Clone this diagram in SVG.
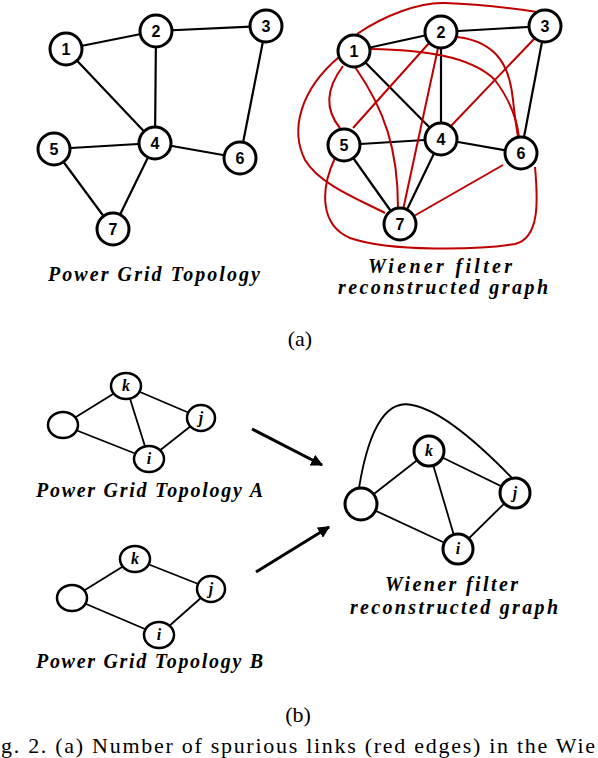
<svg xmlns="http://www.w3.org/2000/svg" width="598" height="758" viewBox="0 0 598 758">
<style>
.bg{fill:#fff}
.e{stroke:#000;stroke-width:2.2;fill:none}
.r{stroke:#c00000;stroke-width:2;fill:none}
.eb{stroke:#000;stroke-width:1.8;fill:none}
.n{fill:#fff;stroke:#000;stroke-width:3}
.nb{fill:#fff;stroke:#000;stroke-width:2.5}
.num{font-family:"Liberation Sans","DejaVu Sans",sans-serif;font-weight:bold;font-size:16px;text-anchor:middle;fill:#000}
.lab{font-family:"Liberation Serif","DejaVu Serif",serif;font-weight:bold;font-style:italic;font-size:16px;text-anchor:middle;fill:#000}
.ttl{font-family:"Liberation Serif","DejaVu Serif",serif;font-weight:bold;font-style:italic;font-size:20px;fill:#000}
.cap{font-family:"Liberation Serif","DejaVu Serif",serif;font-size:22px;fill:#000}
.arr{stroke:#000;stroke-width:3;fill:none}
</style>
<defs>
<marker id="ah" viewBox="0 0 10 10" refX="9" refY="5" markerWidth="4" markerHeight="4" orient="auto" markerUnits="strokeWidth">
<path d="M0,0 L10,5 L0,10 z" fill="#000"/>
</marker>
</defs>
<rect class="bg" x="0" y="0" width="598" height="758"/>

<g id="connectors">
<line class="e" x1="66" y1="49" x2="156" y2="31"/>
<line class="e" x1="66" y1="49" x2="155" y2="143"/>
<line class="e" x1="156" y1="31" x2="266" y2="26"/>
<line class="e" x1="156" y1="31" x2="155" y2="143"/>
<line class="e" x1="266" y1="26" x2="240" y2="158"/>
<line class="e" x1="155" y1="143" x2="54" y2="149"/>
<line class="e" x1="155" y1="143" x2="240" y2="158"/>
<line class="e" x1="155" y1="143" x2="113" y2="229"/>
<line class="e" x1="54" y1="149" x2="113" y2="229"/>
<line class="e" x1="354" y1="51" x2="441" y2="32"/>
<line class="e" x1="354" y1="51" x2="441" y2="139"/>
<line class="e" x1="441" y1="32" x2="545" y2="26"/>
<line class="e" x1="441" y1="32" x2="441" y2="139"/>
<line class="e" x1="545" y1="26" x2="521" y2="153"/>
<line class="e" x1="441" y1="139" x2="344" y2="145"/>
<line class="e" x1="441" y1="139" x2="521" y2="153"/>
<line class="e" x1="441" y1="139" x2="400" y2="224"/>
<line class="e" x1="344" y1="145" x2="400" y2="224"/>
<path class="r" d="M357,34 C385,15 420,2 445,3 C480,4 510,8 537,12"/>
<path class="r" d="M371,49 C420,50 470,55 495,80 C510,100 517,120 519,137"/>
<path class="r" d="M457,37 C500,42 510,70 513,100 C515,120 517,130 518,137"/>
<line class="r" x1="535" y1="38" x2="450" y2="127"/>
<line class="r" x1="503" y1="165" x2="400" y2="224"/>
<path class="r" d="M335,158 C320,190 320,225 350,238 C390,252 480,250 515,244 C540,238 538,200 535,167"/>
<path class="r" d="M343,66 C325,90 325,110 340,128"/>
<path class="r" d="M355,67 C385,110 398,150 398,208"/>
<path class="r" d="M339,57 C300,90 290,130 305,160 C320,185 360,200 385,213"/>
<line class="r" x1="430" y1="42" x2="353" y2="128"/>
<line class="r" x1="438" y1="48" x2="403" y2="210"/>
<line class="eb" x1="63" y1="425" x2="126" y2="386"/>
<line class="eb" x1="63" y1="425" x2="149" y2="459"/>
<line class="eb" x1="126" y1="386" x2="201" y2="418"/>
<line class="eb" x1="126" y1="386" x2="149" y2="459"/>
<line class="eb" x1="201" y1="418" x2="149" y2="459"/>
<line class="eb" x1="72" y1="598" x2="135" y2="559"/>
<line class="eb" x1="72" y1="598" x2="159" y2="635"/>
<line class="eb" x1="135" y1="559" x2="211" y2="589"/>
<line class="eb" x1="211" y1="589" x2="159" y2="635"/>
<line class="eb" x1="361" y1="504" x2="429" y2="451"/>
<line class="eb" x1="361" y1="504" x2="458" y2="549"/>
<line class="eb" x1="429" y1="451" x2="515" y2="493"/>
<line class="eb" x1="429" y1="451" x2="458" y2="549"/>
<line class="eb" x1="515" y1="493" x2="458" y2="549"/>
<path class="eb" d="M359,488 C370,420 390,400 412,405 C440,410 480,445 512,478"/>
<line class="arr" x1="252" y1="429" x2="322" y2="465" marker-end="url(#ah)"/>
<line class="arr" x1="256" y1="572" x2="329" y2="527" marker-end="url(#ah)"/>
</g>

<g id="a-left-1"><circle class="n" cx="66" cy="49" r="16"/><text class="num" x="66" y="55">1</text></g>
<g id="a-left-2"><circle class="n" cx="156" cy="31" r="16"/><text class="num" x="156" y="37">2</text></g>
<g id="a-left-3"><circle class="n" cx="266" cy="26" r="16"/><text class="num" x="266" y="32">3</text></g>
<g id="a-left-4"><circle class="n" cx="155" cy="143" r="16"/><text class="num" x="155" y="149">4</text></g>
<g id="a-left-5"><circle class="n" cx="54" cy="149" r="16"/><text class="num" x="54" y="155">5</text></g>
<g id="a-left-6"><circle class="n" cx="240" cy="158" r="16"/><text class="num" x="240" y="164">6</text></g>
<g id="a-left-7"><circle class="n" cx="113" cy="229" r="16"/><text class="num" x="113" y="235">7</text></g>

<g id="a-right-1"><circle class="n" cx="354" cy="51" r="16"/><text class="num" x="354" y="57">1</text></g>
<g id="a-right-2"><circle class="n" cx="441" cy="32" r="16"/><text class="num" x="441" y="38">2</text></g>
<g id="a-right-3"><circle class="n" cx="545" cy="26" r="16"/><text class="num" x="545" y="32">3</text></g>
<g id="a-right-4"><circle class="n" cx="441" cy="139" r="16"/><text class="num" x="441" y="145">4</text></g>
<g id="a-right-5"><circle class="n" cx="344" cy="145" r="16"/><text class="num" x="344" y="151">5</text></g>
<g id="a-right-6"><circle class="n" cx="521" cy="153" r="16"/><text class="num" x="521" y="159">6</text></g>
<g id="a-right-7"><circle class="n" cx="400" cy="224" r="16"/><text class="num" x="400" y="230">7</text></g>

<g id="bA-u"><ellipse class="nb" cx="63" cy="425" rx="15" ry="13"/></g>
<g id="bA-k"><ellipse class="nb" cx="126" cy="386" rx="15" ry="13"/><text class="lab" x="126" y="391">k</text></g>
<g id="bA-j"><ellipse class="nb" cx="201" cy="418" rx="14" ry="13"/><text class="lab" x="201" y="423">j</text></g>
<g id="bA-i"><ellipse class="nb" cx="149" cy="459" rx="15" ry="13"/><text class="lab" x="149" y="464">i</text></g>

<g id="bB-u"><ellipse class="nb" cx="72" cy="598" rx="15" ry="13"/></g>
<g id="bB-k"><ellipse class="nb" cx="135" cy="559" rx="15" ry="13"/><text class="lab" x="135" y="564">k</text></g>
<g id="bB-j"><ellipse class="nb" cx="211" cy="589" rx="14" ry="13"/><text class="lab" x="211" y="594">j</text></g>
<g id="bB-i"><ellipse class="nb" cx="159" cy="635" rx="15" ry="13"/><text class="lab" x="159" y="640">i</text></g>

<g id="bR-u"><circle class="n" cx="361" cy="504" r="16"/></g>
<g id="bR-k"><circle class="n" cx="429" cy="451" r="15"/><text class="lab" x="429" y="456">k</text></g>
<g id="bR-j"><circle class="n" cx="515" cy="493" r="15"/><text class="lab" x="515" y="498">j</text></g>
<g id="bR-i"><circle class="n" cx="458" cy="549" r="15"/><text class="lab" x="458" y="554">i</text></g>

<g id="labels">
<text class="ttl" x="48" y="281" textLength="212" lengthAdjust="spacing">Power Grid Topology</text>
<text class="ttl" x="368" y="273" textLength="144" lengthAdjust="spacing">Wiener filter</text>
<text class="ttl" x="338" y="294" textLength="210" lengthAdjust="spacing">reconstructed graph</text>
<text class="cap" x="300" y="346" text-anchor="middle">(a)</text>
<text class="ttl" x="36" y="497" textLength="227" lengthAdjust="spacing">Power Grid Topology A</text>
<text class="ttl" x="36" y="668" textLength="227" lengthAdjust="spacing">Power Grid Topology B</text>
<text class="ttl" x="385" y="591" textLength="133" lengthAdjust="spacing">Wiener filter</text>
<text class="ttl" x="350" y="614" textLength="208" lengthAdjust="spacing">reconstructed graph</text>
<text class="cap" x="298" y="722" text-anchor="middle">(b)</text>
<text class="cap" x="1" y="753" textLength="594" lengthAdjust="spacing">g. 2. (a) Number of spurious links (red edges) in the Wie</text>
</g>
</svg>
